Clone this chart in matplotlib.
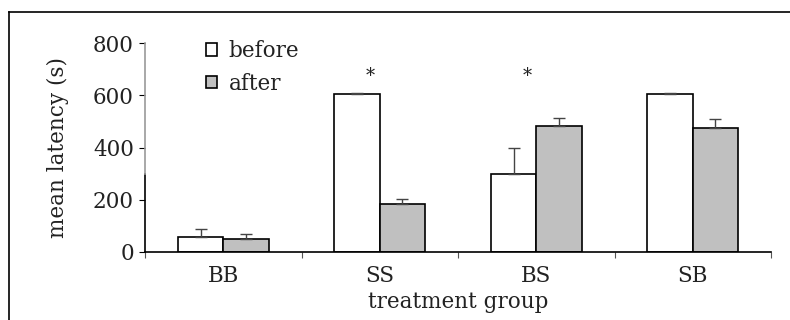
import numpy as np
import matplotlib
matplotlib.use('Agg')
from matplotlib import pyplot as plt
from matplotlib.lines import Line2D

groups = ['BB', 'SS', 'BS', 'SB']
before = [57, 605, 300, 605]
after = [51, 182, 482, 476]
before_err = [31, 2, 99, 2]
after_err = [18, 21, 32, 33]
signif = ['SS', 'BS']

plt.rcParams['font.family'] = ['DejaVu Serif']
plt.rcParams['font.size'] = 15.5
plt.rcParams['text.color'] = '#222222'
plt.rcParams['xtick.labelcolor'] = '#222222'
plt.rcParams['ytick.labelcolor'] = '#222222'
plt.rcParams['axes.labelcolor'] = '#222222'

fig = plt.figure(figsize=(7.9, 3.2), dpi=100)
ax = fig.add_axes([145 / 790, 1 - 252 / 320, 626 / 790, 209 / 320])

x = np.arange(len(groups)) + 0.5
w = 0.29
err_kw = dict(ecolor='#444444', elinewidth=1.0, capsize=4, capthick=1.0)
zeros = np.zeros(len(groups))
ax.bar(x - w / 2, before, w, color='white', edgecolor='black', linewidth=1.2,
       yerr=[zeros, before_err], error_kw=err_kw, label='before', zorder=2)
ax.bar(x + w / 2, after, w, color='#c0c0c0', edgecolor='black', linewidth=1.2,
       yerr=[zeros, after_err], error_kw=err_kw, label='after', zorder=2)

for g in signif:
    i = groups.index(g)
    ax.text(x[i] - 0.06, 672, '*', ha='center', va='center', fontsize=13)

ax.set_xlim(0, 4)
ax.set_ylim(0, 800)
ax.set_yticks([0, 200, 400, 600, 800])
ax.set_xticks([0, 1, 2, 3, 4])
ax.set_xticklabels([])
ax.set_xticks(x, minor=True)
ax.set_xticklabels(groups, minor=True)
ax.tick_params(axis='x', which='minor', length=0, pad=9)
ax.tick_params(axis='x', which='major', length=4, direction='out', color='#555555')
ax.tick_params(axis='y', length=4, direction='out', pad=4)
for t in ax.yaxis.get_major_ticks()[2:]:
    t.tick1line.set_color('#999999')

for s in ['top', 'right', 'left']:
    ax.spines[s].set_visible(False)
ax.spines['bottom'].set_linewidth(1.2)
# y axis: dark near the base, grey above
ax.plot([0, 0], [0, 300], color='black', lw=1.2, clip_on=False, zorder=3)
ax.plot([0, 0], [300, 800], color='#999999', lw=1.2, clip_on=False, zorder=3)

ax.set_xlabel('treatment group', labelpad=3)
ax.set_ylabel('mean latency (s)', labelpad=17)

ax.legend(loc='upper left', bbox_to_anchor=(0.08, 1.065), frameon=False,
          handlelength=0.5, handleheight=0.5, handletextpad=0.55,
          labelspacing=0.5, borderpad=0)

# frame around the figure (top and left edges)
fig.add_artist(Line2D([9 / 790, 1], [1 - 12 / 320] * 2, color='black', lw=1.2))
fig.add_artist(Line2D([9 / 790] * 2, [0, 1 - 12 / 320], color='black', lw=1.2))

fig.savefig('out.png', dpi=100)
